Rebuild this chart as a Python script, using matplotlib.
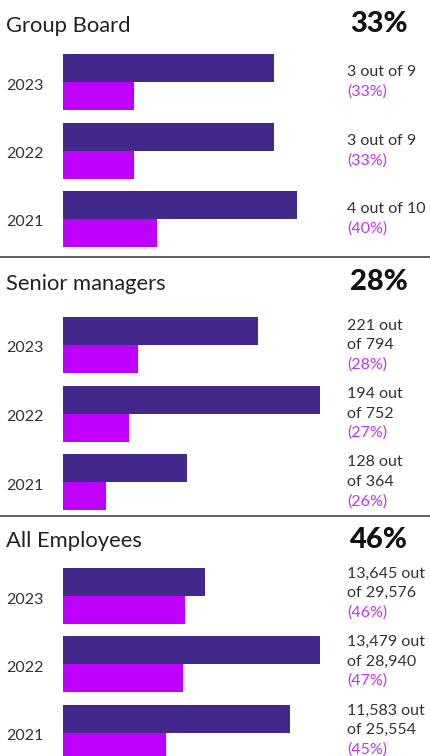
import matplotlib
matplotlib.use('Agg')
import matplotlib.pyplot as plt

plt.rcParams['font.family'] = ['Lato', 'DejaVu Sans']

years = ['2023', '2022', '2021']
titles = ['Group Board', 'Senior managers', 'All Employees']
headline = ['33%', '28%', '46%']

# bar lengths (percent of the longest bar)
board_total = [82.1, 82.1, 91.1]
board_women = [27.6, 27.6, 36.6]
senior_total = [75.9, 100.0, 48.2]
senior_women = [29.2, 25.7, 16.7]
staff_total = [55.3, 100.0, 88.3]
staff_women = [47.5, 46.7, 40.1]

board_counts = [['3 out of 9'], ['3 out of 9'], ['4 out of 10']]
board_pct = ['(33%)', '(33%)', '(40%)']
senior_counts = [['221 out', 'of 794'], ['194 out', 'of 752'], ['128 out', 'of 364']]
senior_pct = ['(28%)', '(27%)', '(26%)']
staff_counts = [['13,645 out', 'of 29,576'], ['13,479 out', 'of 28,940'],
                ['11,583 out', 'of 25,554']]
staff_pct = ['(46%)', '(47%)', '(45%)']

DARK = '#42288a'
MAGENTA = '#bf00ff'
PCT = '#c430ff'
TEXT = '#333333'

W, H = 430, 756
fig = plt.figure(figsize=(W / 100, H / 100), dpi=100)
bg = fig.add_axes([0, 0, 1, 1])
bg.set_xlim(0, W)
bg.set_ylim(H, 0)
bg.axis('off')

step = 68.5
bh = 28
panels = [
    (titles[0], headline[0], board_total, board_women, board_counts, board_pct, 54, 31.5, 0),
    (titles[1], headline[1], senior_total, senior_women, senior_counts, senior_pct, 317, 290, 0),
    (titles[2], headline[2], staff_total, staff_women, staff_counts, staff_pct, 568, 547, -3),
]

for title, big, tot, wom, counts, pct, top, base, shift in panels:
    span = 2 * step + 2 * bh
    ax = fig.add_axes([63 / W, 1 - (top + span) / H, 257 / W, span / H])
    ys = [i * step for i in range(len(years))]
    ax.barh(ys, tot, height=bh, align='edge', color=DARK)
    ax.barh([y + bh for y in ys], wom, height=bh, align='edge', color=MAGENTA)
    ax.set_xlim(0, 100)
    ax.set_ylim(span, 0)
    ax.axis('off')

    bg.text(6, base, title, fontsize=15.8, color='#222222', va='baseline')
    bg.text(408, base + 0.5, big, fontsize=21, fontweight='black', color='#111111',
            va='baseline', ha='right')

    for i, yr in enumerate(years):
        c = top + i * step + bh
        bg.text(6, c + 3.5, yr, fontsize=11.5, color=TEXT, va='center')
        lines = counts[i] + [pct[i]]
        n = len(lines)
        for j, ln in enumerate(lines):
            yy = c + shift - (n - 1) / 2 * 19.5 + j * 19.5
            col = PCT if j == n - 1 else TEXT
            bg.text(347, yy, ln, fontsize=11.5, color=col, va='center')

for y in (257, 516):
    bg.plot([0, W], [y, y], color='#444444', lw=1.2)

fig.savefig('out.png', dpi=100)
